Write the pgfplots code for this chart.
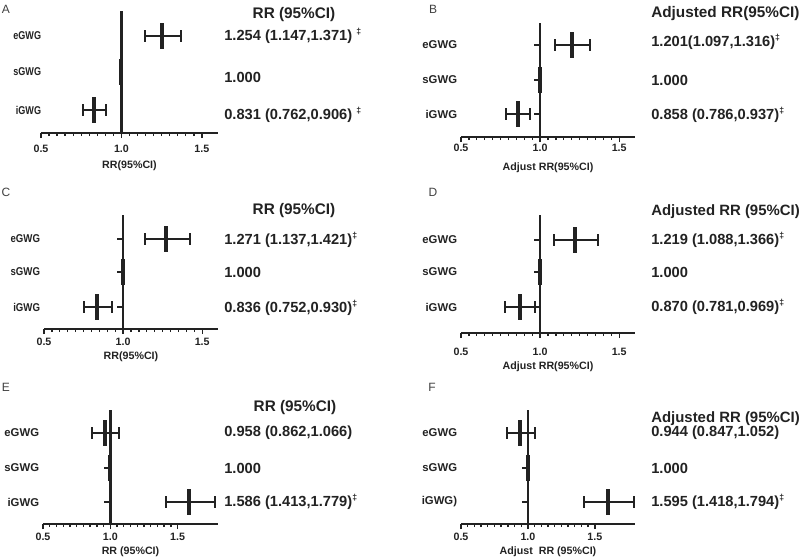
\documentclass[border=0pt]{standalone}
\usepackage{graphicx}
\usepackage{pgfplots}
\pgfplotsset{compat=1.18}
\usepackage{fontspec}
\setmainfont{Liberation Sans}
\definecolor{ink}{HTML}{222222}
\pgfplotsset{
  forest/.style={
    scale only axis, clip=false, enlargelimits=false,
    axis x line=bottom, axis y line=left,
    x axis line style={-, line width=1.5pt, ink},
    y axis line style={draw=none},
    ytick style={draw=none},
    xtick style={line width=1pt, ink},
    tick align=outside, major tick length=3.75pt, minor tick length=2.25pt,
    xtick={0.5,1,1.5}, xticklabels={0.5,1.0,1.5}, minor x tick num=9,
    ymin=0,
    tick label style={font=\bfseries\fontsize{8}{9}\selectfont, text=ink},
    yticklabel style={font=\bfseries\fontsize{8.5}{9}\selectfont},
    xlabel style={font=\bfseries\fontsize{8}{9}\selectfont, text=ink, at={(axis description cs:0.5,0)}, anchor=center},
  },
  ci/.style={ink, line width=1.5pt, mark=|, mark size=4.5pt},
  est/.style={ink, line width=3pt, mark=|, mark size=9.4pt, only marks},
  ref/.style={ink, line width=1.8pt, mark=none},
}
\newcommand\ci[4]{\addplot[ci] coordinates {(#3,#1) (#4,#1)};\addplot[est] coordinates {(#2,#1)};}
\newcommand\one[1]{\addplot[est] coordinates {(1,#1)};}
\newcommand\ytk[2]{\addplot[ref, line width=1.2pt] coordinates {(#2,#1) (1,#1)};}
\newcommand\valfont{\bfseries\fontsize{11}{12}\selectfont\color{ink}}
\newcommand\titfont{\bfseries\fontsize{11.5}{13}\selectfont\color{ink}}
\newcommand\titfontb{\bfseries\fontsize{11.2}{13}\selectfont\color{ink}}
\newcommand\dd{\textsuperscript{\fontsize{6.5}{6.5}\selectfont ‡}}
\begin{document}
\begin{tikzpicture}[x=0.75pt,y=-0.75pt, every node/.append style={inner sep=0pt}]
\useasboundingbox (0,0) rectangle (800,557);
\coordinate (pA) at (41,133);
\coordinate (pB) at (461,137);
\coordinate (pC) at (44,329);
\coordinate (pD) at (461,333);
\coordinate (pE) at (43,524);
\coordinate (pF) at (461,524);
% ---------------- A
\begin{axis}[forest, at={(pA)}, anchor=south west, width=132.75pt, height=91.5pt,
  xmin=0.5, xmax=1.6, ymax=122, ytick={23,61,97},
  yticklabels={\scalebox{0.8}[1]{iGWG},\scalebox{0.8}[1]{sGWG},\scalebox{0.8}[1]{eGWG}},
  yticklabel style={xshift=4pt}, xticklabel style={yshift=-5pt},
  xlabel={RR(95\%CI)}, xlabel style={yshift=-24.5pt}]
\addplot[ref] coordinates {(1,0) (1,122)};
\ci{97}{1.254}{1.147}{1.371}
\one{61}
\ci{23}{0.831}{0.762}{0.906}
\end{axis}
% ---------------- B
\begin{axis}[forest, at={(pB)}, anchor=south west, width=130.5pt, height=85.5pt,
  xmin=0.5, xmax=1.6, ymax=114, ytick={23,57,92},
  yticklabels={iGWG,sGWG,eGWG},
  yticklabel style={xshift=1pt}, xticklabel style={yshift=-1.5pt},
  xlabel={Adjust RR(95\%CI)}, xlabel style={yshift=-23pt}]
\addplot[ref] coordinates {(1,0) (1,114)};
\ytk{92}{0.962}\ytk{57}{0.962}\ytk{23}{0.962}
\ci{92}{1.201}{1.097}{1.316}
\one{57}
\ci{23}{0.858}{0.786}{0.937}
\end{axis}
% ---------------- C
\begin{axis}[forest, at={(pC)}, anchor=south west, width=130.5pt, height=85.5pt,
  xmin=0.5, xmax=1.6, ymax=114, ytick={22,57,90},
  yticklabels={\scalebox{0.85}[1]{iGWG},\scalebox{0.85}[1]{sGWG},\scalebox{0.85}[1]{eGWG}},
  yticklabel style={xshift=1pt}, xticklabel style={yshift=-2.8pt},
  xlabel={RR(95\%CI)}, xlabel style={yshift=-21pt}]
\addplot[ref] coordinates {(1,0) (1,114)};
\ytk{90}{0.962}\ytk{57}{0.962}\ytk{22}{0.962}
\ci{90}{1.271}{1.137}{1.421}
\one{57}
\ci{22}{0.836}{0.752}{0.930}
\end{axis}
% ---------------- D
\begin{axis}[forest, at={(pD)}, anchor=south west, width=130.5pt, height=88.5pt,
  xmin=0.5, xmax=1.6, ymax=118, ytick={26,61,93},
  yticklabels={iGWG,sGWG,eGWG},
  yticklabel style={xshift=1pt}, xticklabel style={yshift=-7.3pt},
  xlabel={Adjust RR(95\%CI)}, xlabel style={yshift=-25.5pt}]
\addplot[ref] coordinates {(1,0) (1,118)};
\ytk{93}{0.962}\ytk{61}{0.962}\ytk{26}{0.962}
\ci{93}{1.219}{1.088}{1.366}
\one{61}
\ci{26}{0.870}{0.781}{0.969}
\end{axis}
% ---------------- E
\begin{axis}[forest, at={(pE)}, anchor=south west, width=131.25pt, height=85.5pt,
  xmin=0.5, xmax=1.8, ymax=114, ytick={22,56,91},
  yticklabels={iGWG,sGWG,eGWG},
  yticklabel style={xshift=1pt}, xticklabel style={yshift=-2.8pt},
  xlabel={RR (95\%CI)}, xlabel style={yshift=-21pt}]
\addplot[ref] coordinates {(1,0) (1,114)};
\ytk{91}{0.955}\ytk{56}{0.955}\ytk{22}{0.955}
\ci{91}{0.958}{0.862}{1.066}
\one{56}
\ci{22}{1.586}{1.413}{1.779}
\end{axis}
% ---------------- F
\begin{axis}[forest, at={(pF)}, anchor=south west, width=130.5pt, height=85.5pt,
  xmin=0.5, xmax=1.8, ymax=114, ytick={22,56,91},
  yticklabels={iGWG),sGWG,eGWG},
  yticklabel style={xshift=1pt}, xticklabel style={yshift=-2.8pt},
  xlabel={Adjust\ \ RR (95\%CI)}, xlabel style={yshift=-21pt}]
\addplot[ref] coordinates {(1,0) (1,114)};
\ytk{91}{0.955}\ytk{56}{0.955}\ytk{22}{0.955}
\ci{91}{0.944}{0.847}{1.052}
\one{56}
\ci{22}{1.595}{1.418}{1.794}
\end{axis}
% ---------------- panel letters
\foreach \l/\px/\py in {A/6/9, B/433/9, C/6/192, D/433/192, E/6/387, F/432/387}
  \node[font=\fontsize{9}{10}\selectfont, text=black!75] at (\px,\py) {\l};
% ---------------- titles and values
\node[font=\titfont] at (294,15) {RR (95\%CI)};
\node[anchor=west, font=\valfont] at (224,36) {1.254 (1.147,1.371) \dd};
\node[anchor=west, font=\valfont] at (224,77) {1.000};
\node[anchor=west, font=\valfont] at (224,115) {0.831 (0.762,0.906) \dd};

\node[anchor=west, font=\titfont] at (651,14) {Adjusted RR(95\%CI)};
\node[anchor=west, font=\valfont] at (651,42) {1.201(1.097,1.316)\dd};
\node[anchor=west, font=\valfont] at (651,80) {1.000};
\node[anchor=west, font=\valfont] at (651,115) {0.858 (0.786,0.937)\dd};

\node[font=\titfont] at (294,211) {RR (95\%CI)};
\node[anchor=west, font=\valfont] at (224,240) {1.271 (1.137,1.421)\dd};
\node[anchor=west, font=\valfont] at (224,272) {1.000};
\node[anchor=west, font=\valfont] at (224,308) {0.836 (0.752,0.930)\dd};

\node[anchor=west, font=\titfontb] at (651,212) {Adjusted RR (95\%CI)};
\node[anchor=west, font=\valfont] at (651,240) {1.219 (1.088,1.366)\dd};
\node[anchor=west, font=\valfont] at (651,272) {1.000};
\node[anchor=west, font=\valfont] at (651,307) {0.870 (0.781,0.969)\dd};

\node[font=\titfont] at (295,408) {RR (95\%CI)};
\node[anchor=west, font=\valfont] at (224,433) {0.958 (0.862,1.066)};
\node[anchor=west, font=\valfont] at (224,468) {1.000};
\node[anchor=west, font=\valfont] at (224,502) {1.586 (1.413,1.779)\dd};

\node[anchor=west, font=\titfontb] at (651,419) {Adjusted RR (95\%CI)};
\node[anchor=west, font=\valfont] at (651,433) {0.944 (0.847,1.052)};
\node[anchor=west, font=\valfont] at (651,468) {1.000};
\node[anchor=west, font=\valfont] at (651,502) {1.595 (1.418,1.794)\dd};
\end{tikzpicture}
\end{document}
